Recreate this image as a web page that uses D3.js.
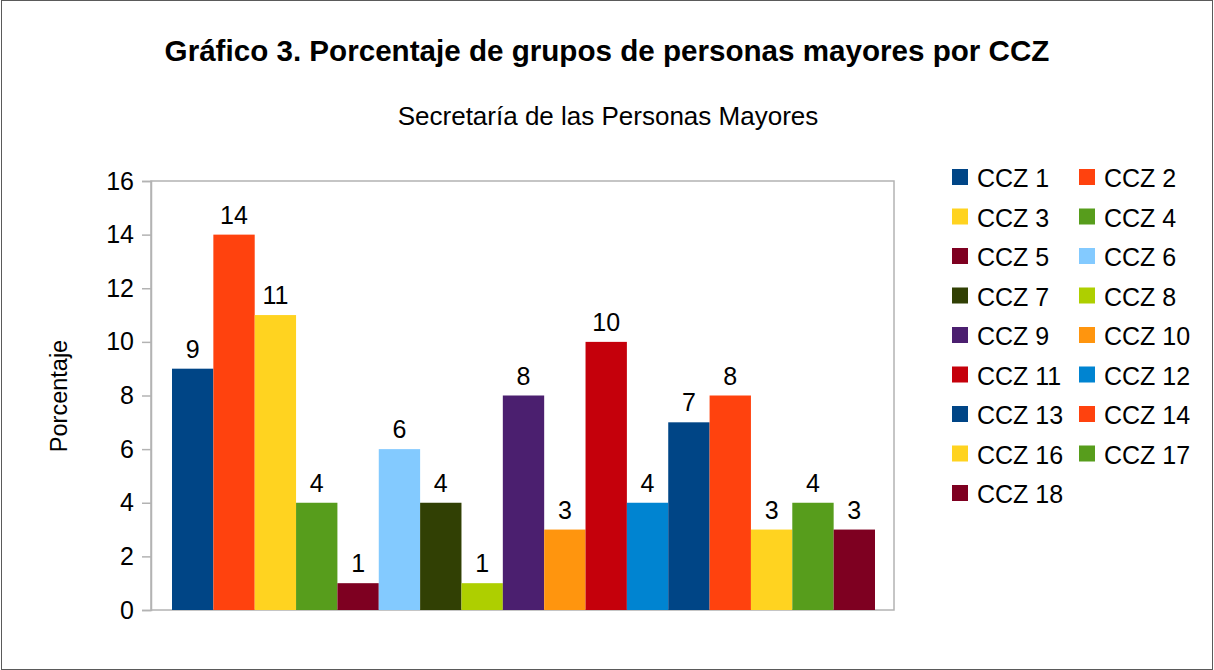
<!DOCTYPE html>
<html>
<head>
<meta charset="utf-8">
<script src="https://cdn.jsdelivr.net/npm/d3@7"></script>
<style>
  body { margin: 0; background: #fff; }
  text { font-family: "Liberation Sans", Arial, sans-serif; fill: #000; }
</style>
</head>
<body>
<div id="chart"></div>
<script>
var series = ["CCZ 1", "CCZ 2", "CCZ 3", "CCZ 4", "CCZ 5", "CCZ 6", "CCZ 7", "CCZ 8", "CCZ 9",
  "CCZ 10", "CCZ 11", "CCZ 12", "CCZ 13", "CCZ 14", "CCZ 16", "CCZ 17", "CCZ 18"];
var values = [9, 14, 11, 4, 1, 6, 4, 1, 8, 3, 10, 4, 7, 8, 3, 4, 3];
var colors = ["#004586", "#ff420e", "#ffd320", "#579d1c", "#7e0021", "#83caff", "#314004", "#aecf00",
  "#4b1f6f", "#ff950e", "#c5000b", "#0084d1", "#004586", "#ff420e", "#ffd320", "#579d1c", "#7e0021"];
var yTicks = [0, 2, 4, 6, 8, 10, 12, 14, 16];

var width = 1214, height = 670;
var plot = {left: 151, right: 894, top: 181, bottom: 610};

var svg = d3.select("#chart").append("svg")
    .attr("width", width)
    .attr("height", height);

// outer frame
svg.append("rect")
    .attr("x", 1.5).attr("y", 0.5)
    .attr("width", width - 3).attr("height", height - 1)
    .attr("fill", "#fff")
    .attr("stroke", "#5a5a5a");

svg.append("text")
    .attr("x", 607).attr("y", 61)
    .attr("text-anchor", "middle")
    .style("font-size", "29.6px").style("font-weight", "bold")
    .text("Gráfico 3. Porcentaje de grupos de personas mayores por CCZ");

svg.append("text")
    .attr("x", 608).attr("y", 125)
    .attr("text-anchor", "middle")
    .style("font-size", "26px")
    .text("Secretaría de las Personas Mayores");

var yScale = d3.scaleLinear().domain([0, 16]).range([plot.bottom, plot.top]);
var xScale = d3.scaleBand().domain(series).range([172, 875]).padding(0);

// plot frame
svg.append("rect")
    .attr("x", plot.left).attr("y", plot.top)
    .attr("width", plot.right - plot.left).attr("height", plot.bottom - plot.top)
    .attr("fill", "none").attr("stroke", "#b3b3b3").attr("stroke-width", 1.5);

var yAxis = d3.axisLeft(yScale).tickValues(yTicks).tickSize(9).tickPadding(8);
var gy = svg.append("g")
    .attr("transform", "translate(" + plot.left + ",0)")
    .call(yAxis);
gy.select(".domain").attr("stroke", "#b3b3b3").attr("stroke-width", 1.5);
gy.selectAll(".tick line").attr("stroke", "#b3b3b3").attr("stroke-width", 1.5);
gy.selectAll(".tick text").style("font-size", "25px").attr("fill", "#000")
    .style("font-family", "'Liberation Sans', Arial, sans-serif");

svg.append("text")
    .attr("transform", "translate(67," + 396 + ") rotate(-90)")
    .attr("text-anchor", "middle")
    .style("font-size", "23.5px")
    .text("Porcentaje");

var bars = svg.selectAll(".bar")
    .data(series)
    .enter().append("g")
    .attr("class", "bar");

bars.append("rect")
    .attr("x", function(d) { return xScale(d); })
    .attr("y", function(d, i) { return yScale(values[i]); })
    .attr("width", xScale.bandwidth())
    .attr("height", function(d, i) { return yScale(0) - yScale(values[i]); })
    .attr("fill", function(d, i) { return colors[i]; });

bars.append("text")
    .attr("x", function(d) { return xScale(d) + xScale.bandwidth() / 2; })
    .attr("y", function(d, i) { return yScale(values[i]) - 11; })
    .attr("text-anchor", "middle")
    .style("font-size", "25px")
    .text(function(d, i) { return values[i]; });

// legend, two columns
var legend = svg.selectAll(".legend")
    .data(series)
    .enter().append("g")
    .attr("class", "legend")
    .attr("transform", function(d, i) {
      return "translate(" + (i % 2 === 0 ? 952 : 1079) + "," + (177 + Math.floor(i / 2) * 39.5) + ")";
    });

legend.append("rect")
    .attr("x", 0).attr("y", -8)
    .attr("width", 16).attr("height", 16)
    .attr("fill", function(d, i) { return colors[i]; });

legend.append("text")
    .attr("x", 25).attr("y", 10)
    .style("font-size", "25px")
    .text(function(d) { return d; });
</script>
</body>
</html>
